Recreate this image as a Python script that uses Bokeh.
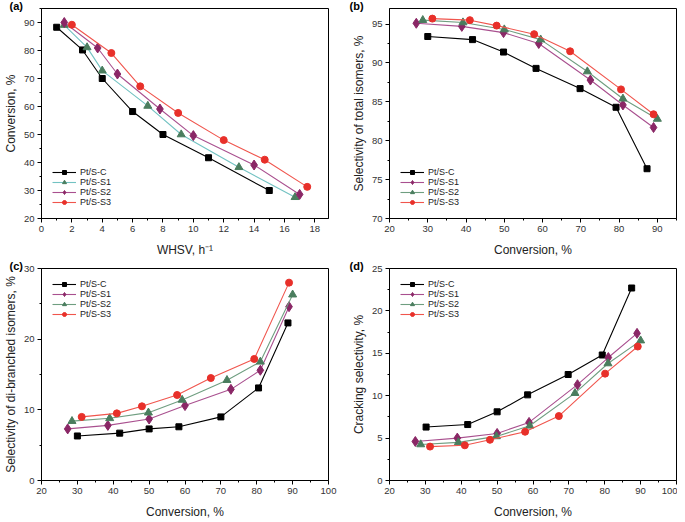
from bokeh.plotting import figure
from bokeh.layouts import row, column
from bokeh.models import FixedTicker, Range1d
from bokeh.embed import file_html
from bokeh.resources import INLINE

names = ["Pt/S-C", "Pt/S-S1", "Pt/S-S2", "Pt/S-S3"]

# Panel (a): conversion vs WHSV
a_x_C = [1, 2.7, 4, 6, 8, 11, 15]
a_y_C = [88.3, 80.2, 70, 58.2, 50, 41.7, 30]
a_x_S1 = [1.5, 3, 4, 7, 9.2, 13, 16.7]
a_y_S1 = [89.1, 81.1, 72.8, 60.2, 50, 38.3, 27.6]
a_x_S2 = [1.5, 3.7, 5, 7.8, 10, 14, 17]
a_y_S2 = [90, 80.9, 71.6, 59.1, 49.6, 39.1, 28.6]
a_x_S3 = [2, 4.6, 6.5, 9, 12, 14.7, 17.5]
a_y_S3 = [89.2, 79.1, 67.2, 57.7, 48, 41, 31.3]

# Panel (b): selectivity of total isomers vs conversion
b_x_C = [30, 41.7, 49.8, 58.3, 69.8, 79.2, 87.3]
b_y_C = [93.4, 93.0, 91.4, 89.3, 86.7, 84.3, 76.4]
b_x_S1 = [27, 38.9, 49.8, 59, 72.5, 81, 89]
b_y_S1 = [95.1, 94.7, 93.9, 92.5, 87.8, 84.6, 81.7]
b_x_S2 = [28.7, 39.2, 50, 59.5, 71.7, 81, 90]
b_y_S2 = [95.5, 95.2, 94.3, 93.0, 88.9, 85.4, 82.8]
b_x_S3 = [31.2, 41, 48, 57.8, 67.2, 80.5, 89]
b_y_S3 = [95.7, 95.5, 94.8, 93.7, 91.5, 86.6, 83.4]

# Panel (c): selectivity of di-branched isomers vs conversion
c_x_C = [30, 41.8, 50, 58.3, 70, 80.5, 88.7]
c_y_C = [6.3, 6.7, 7.3, 7.6, 9.0, 13.1, 22.3]
c_x_S1 = [27.3, 38.5, 50, 60, 72.8, 81, 89]
c_y_S1 = [7.3, 7.8, 8.7, 10.6, 12.9, 15.6, 24.6]
c_x_S2 = [28.5, 39, 49.8, 59.2, 71.7, 81, 90]
c_y_S2 = [8.4, 8.8, 9.6, 11.4, 14.2, 16.8, 26.3]
c_x_S3 = [31.2, 41, 48, 57.8, 67.2, 79.3, 89]
c_y_S3 = [9.0, 9.5, 10.5, 12.1, 14.5, 17.2, 28.0]

# Panel (d): cracking selectivity vs conversion
d_x_C = [30.2, 41.8, 50, 58.5, 69.8, 79.3, 87.5]
d_y_C = [6.3, 6.6, 8.1, 10.1, 12.5, 14.8, 22.7]
d_x_S1 = [27.2, 38.9, 50, 58.9, 72.4, 81, 89]
d_y_S1 = [4.6, 5.0, 5.55, 6.85, 11.3, 14.5, 17.35]
d_x_S2 = [28.7, 39.2, 49.8, 59.1, 71.7, 80.9, 90]
d_y_S2 = [4.25, 4.5, 5.2, 6.45, 10.3, 13.8, 16.5]
d_x_S3 = [31.3, 41, 48, 57.8, 67.2, 80.1, 89.2]
d_y_S3 = [4.0, 4.15, 4.8, 5.75, 7.6, 12.6, 15.8]

FONT = "Liberation Sans"
BLACK = "#000000"
PURPLE_M, PURPLE_L = "#8a2766", "#a9508f"
GREEN_M, GREEN_L = "#4a7d5e", "#6f9e80"
TEAL_L = "#72c2c2"
RED_M, RED_L = "#e8302a", "#f0554d"


def make_fig(fw, fh, xr, yr, xt, xminor, yt, yminor, xlabel, ylabel,
             bl, br, bt, bb, tag):
    p = figure(frame_width=fw, frame_height=fh, output_backend="svg", toolbar_location=None,
               x_range=Range1d(*xr), y_range=Range1d(*yr),
               min_border_left=bl, min_border_right=br, min_border_top=bt, min_border_bottom=bb)
    p.title.text = tag
    p.title.align = "left"
    p.title.offset = -bl
    p.title.standoff = -6
    p.title.text_font = FONT
    p.title.text_font_size = "11px"
    p.title.text_font_style = "bold"
    p.title.text_color = "#000000"
    p.grid.visible = False
    p.outline_line_color = "#000000"
    p.outline_line_width = 1
    p.background_fill_color = "white"
    p.border_fill_color = "white"
    p.xaxis.ticker = FixedTicker(ticks=xt, minor_ticks=xminor)
    p.yaxis.ticker = FixedTicker(ticks=yt, minor_ticks=yminor)
    for ax in (p.xaxis[0], p.yaxis[0]):
        ax.axis_line_color = "#000000"
        ax.major_tick_line_color = "#000000"
        ax.minor_tick_line_color = "#000000"
        ax.major_tick_out = 4
        ax.major_tick_in = 0
        ax.minor_tick_out = 2
        ax.minor_tick_in = 0
        ax.major_label_text_font = FONT
        ax.major_label_text_font_size = "9.5px"
        ax.major_label_text_color = "#333333"
        ax.axis_label_text_font = FONT
        ax.axis_label_text_font_size = "12px"
        ax.axis_label_text_font_style = "normal"
        ax.axis_label_text_color = "#222222"
        ax.major_label_standoff = 3
    p.xaxis.axis_label = xlabel
    p.yaxis.axis_label = ylabel
    p.xaxis.axis_label_standoff = 8
    p.yaxis.axis_label_standoff = 3
    return p


def add_series(p, xs, ys, marker, mcolor, lcolor, size, label):
    p.line(xs, ys, line_color=lcolor, line_width=1.1, legend_label=label)
    p.scatter(xs, ys, marker=marker, size=size, fill_color=mcolor, line_color=mcolor,
              legend_label=label)


def style_legend(p, loc):
    lg = p.legend[0]
    lg.location = loc
    lg.border_line_alpha = 0
    lg.background_fill_alpha = 0
    lg.label_text_font = FONT
    lg.label_text_font_size = "9px"
    lg.label_text_color = "#222222"
    lg.glyph_width = 24
    lg.glyph_height = 10
    lg.label_height = 10
    lg.spacing = 0
    lg.padding = 2
    lg.margin = 9
    lg.label_standoff = 4


# (a)
pa = make_fig(287, 210, (0, 18.9), (20, 95),
              list(range(0, 19, 2)), list(range(1, 19, 2)),
              list(range(20, 91, 10)), list(range(25, 96, 10)),
              "WHSV, h\u207b\u00b9", "Conversion, %", 32, 20, 0, 42, "(a)")
add_series(pa, a_x_C, a_y_C, "square", BLACK, BLACK, 6, names[0])
add_series(pa, a_x_S1, a_y_S1, "triangle", GREEN_M, TEAL_L, 8, names[1])
add_series(pa, a_x_S2, a_y_S2, "diamond", PURPLE_M, PURPLE_L, 10, names[2])
add_series(pa, a_x_S3, a_y_S3, "circle", RED_M, RED_L, 7, names[3])
style_legend(pa, "bottom_left")

# (b)
pb = make_fig(287, 210, (20, 95), (70, 97),
              list(range(20, 91, 10)), list(range(25, 96, 10)),
              list(range(70, 96, 5)), [72.5, 77.5, 82.5, 87.5, 92.5],
              "Conversion, %", "Selectivity of total isomers, %", 40, 1, 0, 42, "(b)")
add_series(pb, b_x_C, b_y_C, "square", BLACK, BLACK, 6, names[0])
add_series(pb, b_x_S1, b_y_S1, "diamond", PURPLE_M, PURPLE_L, 10, names[1])
add_series(pb, b_x_S2, b_y_S2, "triangle", GREEN_M, GREEN_L, 8, names[2])
add_series(pb, b_x_S3, b_y_S3, "circle", RED_M, RED_L, 7, names[3])
style_legend(pb, "bottom_left")

# (c)
pc = make_fig(287, 212, (20, 100), (0, 30),
              list(range(20, 101, 10)), list(range(25, 100, 10)),
              [0, 10, 20, 30], [5, 15, 25],
              "Conversion, %", "Selectivity of di-branched isomers, %", 32, 20, 0, 38, "(c)")
add_series(pc, c_x_C, c_y_C, "square", BLACK, BLACK, 6, names[0])
add_series(pc, c_x_S1, c_y_S1, "diamond", PURPLE_M, PURPLE_L, 10, names[1])
add_series(pc, c_x_S2, c_y_S2, "triangle", GREEN_M, GREEN_L, 8, names[2])
add_series(pc, c_x_S3, c_y_S3, "circle", RED_M, RED_L, 7, names[3])
style_legend(pc, "top_left")

# (d)
pd_ = make_fig(287, 212, (20, 100), (0, 25),
               list(range(20, 101, 10)), list(range(25, 100, 10)),
               [0, 5, 10, 15, 20, 25], [2.5, 7.5, 12.5, 17.5, 22.5],
               "Conversion, %", "Cracking selectivity, %", 40, 1, 0, 38, "(d)")
add_series(pd_, d_x_C, d_y_C, "square", BLACK, BLACK, 6, names[0])
add_series(pd_, d_x_S1, d_y_S1, "diamond", PURPLE_M, PURPLE_L, 10, names[1])
add_series(pd_, d_x_S2, d_y_S2, "triangle", GREEN_M, GREEN_L, 8, names[2])
add_series(pd_, d_x_S3, d_y_S3, "circle", RED_M, RED_L, 7, names[3])
style_legend(pd_, "top_left")

layout = column(row(pa, pb, spacing=0), row(pc, pd_, spacing=0), spacing=0)

with open("out.html", "w") as f:
    f.write(file_html(layout, INLINE))
